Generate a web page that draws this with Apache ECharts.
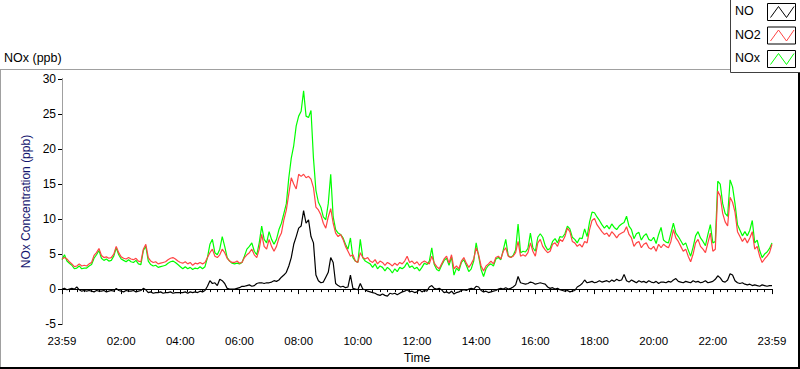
<!DOCTYPE html>
<html><head><meta charset="utf-8">
<script src="https://cdn.jsdelivr.net/npm/echarts@6/dist/echarts.min.js"></script>
<style>html,body{margin:0;padding:0;background:#fff}#c{width:800px;height:369px}</style>
</head><body><div id="c"></div>
<script>
const seriesNames = ['NO', 'NO2', 'NOx'];
const seriesColors = ['#000000', '#ff4444', '#00ff00'];
const xTickLabels = ['23:59','02:00','04:00','06:00','08:00','10:00','12:00','14:00','16:00','18:00','20:00','22:00','23:59'];
const stepMinutes = 5; // sample spacing, minutes after 23:59

const NO = [
0.0,0.1,-0.1,0.0,0.1,0.0,0.3,-0.1,-0.3,-0.2,-0.3,-0.2,
-0.3,-0.4,-0.2,-0.3,-0.3,-0.2,-0.4,-0.3,-0.2,-0.3,0.1,-0.2,
-0.3,-0.4,-0.2,-0.3,-0.3,-0.2,-0.4,-0.3,-0.2,0.1,-0.1,-0.5,
-0.4,-0.6,-0.5,-0.5,-0.4,-0.6,-0.5,-0.5,-0.4,-0.6,-0.5,-0.5,
-0.5,-0.5,-0.4,-0.6,-0.4,-0.5,-0.4,-0.5,-0.3,-0.4,-0.2,0.4,
1.2,0.8,0.9,0.5,1.4,1.2,0.8,0.1,0.0,0.0,0.0,0.1,
0.2,0.4,0.4,0.5,0.6,0.4,0.5,0.8,0.9,0.9,0.8,0.9,
0.9,1.0,1.2,1.1,1.3,1.7,2.0,2.4,3.3,4.5,6.4,7.5,
8.7,9.0,11.2,9.4,9.9,7.5,6.6,2.0,1.2,0.9,1.0,1.7,
2.4,4.5,3.8,0.8,0.5,0.3,0.4,0.2,0.3,2.0,0.1,0.0,
-0.1,0.8,0.0,-0.1,-0.3,-0.4,-0.5,-0.6,-0.8,-0.9,-0.7,-0.9,
-1.0,-0.6,-0.7,-0.6,-0.8,-0.6,-0.4,-0.3,-0.1,-0.4,-0.3,-0.5,
-0.4,-0.1,-0.4,-0.2,-0.3,0.3,0.5,0.1,0.0,0.1,-0.1,-0.5,
-0.4,-0.6,-0.3,-0.7,-0.5,-0.4,-0.2,-0.1,-0.2,0.0,0.1,0.0,
0.4,0.3,-0.2,-0.4,-0.3,-0.5,-0.4,-0.3,-0.2,0.0,0.1,0.0,
0.2,0.0,0.1,0.3,0.6,1.8,0.9,0.8,0.7,0.8,1.0,0.9,
0.7,0.8,0.9,0.8,0.7,0.3,0.1,0.2,0.0,0.1,-0.1,-0.2,
-0.3,-0.2,-0.4,-0.3,-0.2,0.3,0.5,0.8,1.3,0.9,1.0,1.1,
0.9,1.0,1.2,1.0,1.1,1.2,1.0,1.3,1.1,1.4,1.2,1.3,
2.1,1.2,1.0,1.3,1.1,0.9,1.2,1.0,1.1,0.9,1.2,1.0,
0.9,1.1,0.8,1.0,1.0,0.9,1.1,1.0,1.3,1.5,1.1,1.0,
0.9,1.1,1.0,0.9,1.2,1.0,1.1,0.9,1.0,1.2,0.9,1.0,
1.1,1.4,1.9,1.6,1.1,1.0,1.3,2.2,2.0,1.2,0.9,0.8,
0.9,0.7,0.6,0.7,0.5,0.6,0.5,0.4,0.6,0.5,0.4,0.5,
0.5];

const NO2 = [
4.3,4.5,4.3,3.9,3.6,3.2,3.3,3.6,3.3,3.4,3.3,3.6,
3.8,4.8,5.2,5.8,4.8,4.5,4.6,4.4,4.5,5.0,6.1,5.2,
4.6,4.4,4.3,4.5,4.3,4.2,4.4,4.0,3.9,5.7,6.4,4.5,
4.0,3.8,3.9,3.6,3.7,3.8,3.9,4.2,4.4,4.5,4.3,4.0,
3.8,3.7,3.9,3.6,3.8,3.4,3.7,3.6,3.8,3.6,3.8,4.5,
5.2,5.7,4.7,4.5,4.9,5.7,5.2,4.4,4.0,3.8,3.8,4.0,
3.7,3.8,4.5,4.9,5.2,5.7,4.9,4.5,5.7,7.8,6.1,5.7,
7.1,6.1,5.4,6.1,7.3,8.0,9.9,11.3,13.6,15.9,15.0,14.3,
16.4,16.1,16.4,15.9,16.1,15.7,14.5,11.7,11.3,10.6,9.4,8.7,
10.3,11.5,9.4,8.0,7.5,7.8,7.1,6.1,5.4,4.7,4.9,4.0,
3.8,5.2,4.5,4.3,4.5,4.0,3.8,4.2,3.6,4.0,3.8,3.4,
3.8,3.6,3.3,3.7,3.4,3.8,3.6,4.0,4.7,3.8,4.0,3.6,
3.9,3.4,3.8,4.0,3.8,3.6,4.7,3.7,3.2,2.9,3.6,4.3,
4.7,3.7,4.9,2.9,3.3,2.9,4.0,4.5,3.7,3.1,3.6,4.3,
5.9,4.9,3.3,2.6,3.3,3.6,4.0,3.6,4.5,4.7,4.3,5.4,
5.9,4.7,4.5,4.7,5.2,6.8,4.7,4.9,4.7,5.2,6.6,5.4,
4.7,6.6,7.1,6.1,5.6,5.2,5.4,6.4,6.6,6.1,7.1,6.8,
7.5,8.7,8.2,6.8,6.6,6.1,6.4,6.0,6.8,6.6,8.5,9.8,
10.1,9.2,8.7,8.2,7.8,8.0,7.5,8.2,7.8,7.3,7.8,8.0,
8.2,8.9,7.8,7.3,6.1,6.6,6.8,5.9,6.4,6.6,5.9,5.7,
6.1,5.4,6.4,5.9,6.4,6.1,5.9,6.8,8.5,7.3,6.8,6.1,
5.4,5.7,4.7,3.9,5.0,6.6,7.1,6.1,5.7,5.2,6.6,8.0,
5.4,5.7,14.0,13.3,10.8,9.6,9.0,13.1,12.4,11.0,8.2,7.5,
6.8,7.3,6.6,7.3,8.2,5.7,6.1,4.7,3.8,4.3,4.7,5.2,
6.4];

const NOx = [
4.2,4.9,4.0,3.7,3.4,2.9,3.0,3.3,2.9,3.0,3.0,3.3,
3.5,4.4,4.9,5.5,4.4,4.1,4.3,4.0,4.1,4.7,5.9,4.9,
4.3,4.1,3.9,4.2,3.9,3.8,4.1,3.6,3.5,5.5,6.1,4.0,
3.5,3.3,3.4,3.1,3.2,3.3,3.4,3.7,3.9,4.0,3.8,3.5,
3.2,2.9,3.2,2.9,3.1,2.8,3.0,2.9,3.2,2.9,3.2,4.5,
6.4,7.1,5.2,4.9,5.7,7.5,6.1,4.5,4.0,3.7,3.6,3.7,
3.6,3.8,4.7,5.7,6.1,6.6,5.4,4.9,6.6,9.0,7.1,6.6,
8.2,7.1,6.4,7.1,8.5,9.4,10.8,12.2,15.9,18.7,20.5,23.3,
24.7,25.4,28.3,24.7,24.5,25.5,18.7,14.1,12.4,11.7,10.3,9.9,
12.2,16.4,10.3,8.5,8.0,7.8,7.3,6.4,5.7,7.3,4.5,4.0,
3.8,7.1,4.5,4.0,3.8,3.6,3.1,3.6,2.9,3.3,3.1,2.6,
3.1,2.8,2.3,2.9,2.5,3.1,2.9,3.2,3.8,3.1,3.3,2.9,
3.1,2.6,3.1,3.7,3.5,4.0,5.9,3.5,2.8,2.6,3.4,4.1,
4.4,3.4,4.6,2.0,3.0,2.6,3.8,4.2,3.4,2.5,2.9,4.0,
6.6,4.7,2.8,1.8,2.9,3.4,3.6,3.3,4.3,4.5,4.2,5.6,
7.1,4.8,4.5,4.8,5.6,9.3,5.2,5.4,5.3,5.8,8.0,5.9,
5.4,7.4,7.9,7.4,6.2,5.6,5.8,6.8,7.2,6.6,7.5,7.4,
7.9,9.0,8.6,7.4,7.1,6.6,7.3,7.2,8.6,7.5,9.6,11.0,
10.9,10.3,9.8,9.2,8.7,9.1,8.6,9.3,8.8,8.5,9.0,9.3,
9.5,10.4,9.0,8.5,7.2,7.9,8.1,7.0,7.6,7.9,7.1,6.9,
7.4,6.5,7.8,8.8,7.0,6.7,6.6,8.0,9.4,8.0,7.5,6.9,
6.3,6.6,5.6,4.7,6.0,7.6,8.2,7.3,6.8,6.2,7.8,9.2,
6.6,6.8,15.4,15.0,12.2,10.8,10.4,15.6,14.6,12.2,9.2,8.4,
7.6,8.2,7.6,8.4,9.8,6.6,7.0,5.5,4.5,5.0,5.3,5.8,
6.6];

const FONT = 'Liberation Sans';
const pairs = arr => arr.map((v, i) => [i * stepMinutes, v]);

const chart = echarts.init(document.getElementById('c'), null, {renderer: 'svg'});

function legendItems() {
  const items = [];
  const rowsY = [3.5, 27, 50.5];
  seriesNames.forEach((name, i) => {
    const y = rowsY[i];
    items.push({type: 'text', left: 735, top: y + 1, style: {text: name, font: '12.5px ' + FONT, fill: '#000'}});
    items.push({type: 'rect', shape: {x: 767.5, y: y, width: 28, height: 17}, style: {fill: '#fff', stroke: '#000', lineWidth: 1}});
    items.push({type: 'polyline', shape: {points: [[770.5, y + 14], [778.5, y + 3], [786.5, y + 14], [794, y + 3]]}, style: {stroke: seriesColors[i], lineWidth: 1, fill: null}});
  });
  return items;
}

chart.setOption({
  animation: false,
  backgroundColor: '#fff',
  textStyle: {fontFamily: FONT},
  grid: {left: 62, top: 79, right: 28, bottom: 39},
  xAxis: [{
    type: 'value', min: 0, max: 1440, interval: 120,
    name: 'Time', nameLocation: 'middle', nameGap: 27,
    nameTextStyle: {color: '#000', fontSize: 12, fontFamily: FONT},
    axisLine: {show: true, lineStyle: {color: '#000', width: 1}},
    axisTick: {show: true, length: 5, lineStyle: {color: '#000'}},
    minorTick: {show: true, splitNumber: 8, length: 3, lineStyle: {color: '#000'}},
    axisLabel: {color: '#000', fontSize: 11.5, fontFamily: FONT, margin: 11,
      formatter: v => xTickLabels[Math.round(v / 120)]},
    splitLine: {show: false}
  }, {
    type: 'value', min: 0, max: 1440, position: 'top',
    axisLine: {show: true, lineStyle: {color: '#000', width: 1}},
    axisTick: {show: false}, axisLabel: {show: false}, splitLine: {show: false}
  }],
  yAxis: [{
    type: 'value', min: -5, max: 30, interval: 5,
    name: 'NOx Concentration (ppb)', nameLocation: 'middle', nameGap: 29, nameRotate: 90,
    nameTextStyle: {color: '#14146e', fontSize: 12, fontFamily: FONT},
    axisLine: {show: true, lineStyle: {color: '#000', width: 1}},
    axisTick: {show: true, length: 4, lineStyle: {color: '#000'}},
    axisLabel: {color: '#000', fontSize: 12, fontFamily: FONT, margin: 6},
    splitLine: {show: false}
  }, {
    type: 'value', min: -5, max: 30, position: 'right',
    axisLine: {show: true, lineStyle: {color: '#a0a0a0', width: 1}},
    axisTick: {show: false}, axisLabel: {show: false}, splitLine: {show: false}
  }],
  series: [
    {name: 'NOx', type: 'line', data: pairs(NOx), showSymbol: false, symbol: 'none', lineStyle: {color: seriesColors[2], width: 1.2}, z: 2},
    {name: 'NO2', type: 'line', data: pairs(NO2), showSymbol: false, symbol: 'none', lineStyle: {color: seriesColors[1], width: 1.2}, z: 3},
    {name: 'NO', type: 'line', data: pairs(NO), showSymbol: false, symbol: 'none', lineStyle: {color: seriesColors[0], width: 1.2}, z: 4}
  ],
  graphic: [
    {type: 'text', left: 4, top: 51, style: {text: 'NOx (ppb)', font: '12.5px ' + FONT, fill: '#000'}},
    {type: 'line', shape: {x1: 0, y1: 69.5, x2: 730, y2: 69.5}, style: {stroke: '#a0a0a0', lineWidth: 1}},
    {type: 'line', shape: {x1: 0.5, y1: 69.5, x2: 0.5, y2: 369}, style: {stroke: '#a0a0a0', lineWidth: 1}},
    {type: 'line', shape: {x1: 0, y1: 368, x2: 800, y2: 368}, style: {stroke: '#000', lineWidth: 2}},
    {type: 'line', shape: {x1: 799, y1: 72, x2: 799, y2: 369}, style: {stroke: '#000', lineWidth: 2}},
    {type: 'rect', shape: {x: 730.5, y: -1, width: 72, height: 73.5}, style: {fill: '#fff', stroke: '#404040', lineWidth: 1}},
    ...legendItems()
  ]
});
</script>
</body></html>
